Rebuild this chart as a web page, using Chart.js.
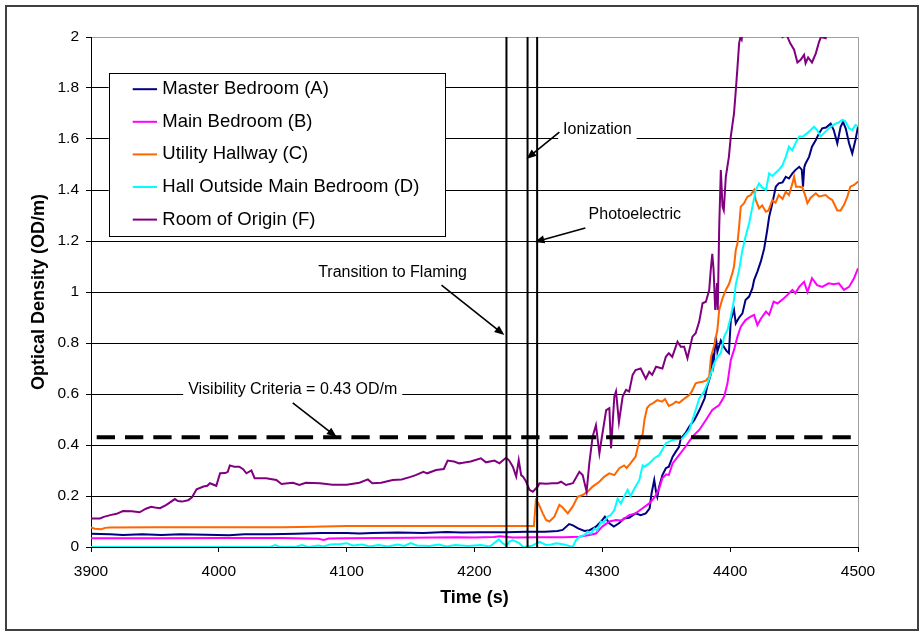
<!DOCTYPE html>
<html>
<head>
<meta charset="utf-8">
<script src="https://cdn.jsdelivr.net/npm/chart.js@4.4.1/dist/chart.umd.min.js"></script>
<style>
html, body { margin: 0; padding: 0; background: #fff; }
</style>
</head>
<body>
<canvas id="odChart" width="920" height="633"></canvas>
<script>
// series: [time (s), optical density (OD/m)]
var masterBedroom = [[3900,0.052],[3915,0.05],[3925,0.047],[3940,0.05],[3955,0.047],[3970,0.05],[3990,0.048],[4008,0.046],[4020,0.05],[4040,0.05],[4060,0.052],[4080,0.055],[4100,0.055],[4110,0.053],[4120,0.055],[4140,0.057],[4160,0.055],[4178,0.059],[4190,0.057],[4205,0.058],[4225,0.058],[4240,0.06],[4255,0.06],[4265,0.063],[4269,0.067],[4274,0.09],[4277,0.085],[4281,0.073],[4286,0.063],[4290,0.066],[4295,0.08],[4299,0.1],[4302,0.119],[4305.5,0.093],[4309,0.08],[4313,0.093],[4317,0.112],[4321,0.115],[4326,0.132],[4330,0.125],[4334,0.132],[4337,0.152],[4338.5,0.21],[4340.6,0.263],[4342,0.217],[4343,0.197],[4344.5,0.237],[4347,0.282],[4349.7,0.309],[4352,0.315],[4355,0.354],[4357.5,0.374],[4360,0.393],[4361.4,0.426],[4365,0.446],[4368,0.472],[4372,0.498],[4376,0.537],[4380,0.583],[4382,0.629],[4385,0.68],[4386,0.76],[4387,0.72],[4388.8,0.825],[4390,0.766],[4392.7,0.81],[4395,0.785],[4397,0.77],[4399,0.76],[4400.5,0.89],[4403,0.93],[4404.4,0.877],[4407,0.9],[4409.6,0.916],[4412,0.969],[4414.8,0.982],[4417.4,1.015],[4418.7,1.047],[4421.3,1.08],[4424,1.12],[4426.6,1.17],[4429,1.243],[4430.5,1.295],[4433,1.348],[4435.7,1.413],[4438,1.426],[4441,1.43],[4443.5,1.452],[4446,1.445],[4448.7,1.465],[4451,1.478],[4454,1.491],[4456,1.48],[4457,1.413],[4458,1.49],[4459,1.504],[4461.7,1.53],[4464,1.57],[4467,1.596],[4469.5,1.622],[4472,1.642],[4475,1.645],[4478.6,1.66],[4481,1.635],[4483.8,1.583],[4486.4,1.648],[4488.3,1.667],[4490.5,1.64],[4493,1.583],[4495.5,1.543],[4498,1.596],[4500,1.648]];
var mainBedroom = [[3900,0.034],[3950,0.034],[4000,0.035],[4050,0.035],[4078,0.032],[4082,0.028],[4086,0.033],[4100,0.034],[4150,0.036],[4186,0.038],[4200,0.037],[4215,0.039],[4220,0.042],[4230,0.037],[4250,0.038],[4270,0.038],[4282,0.04],[4290,0.047],[4295,0.053],[4300,0.08],[4305.5,0.1],[4310.7,0.106],[4315,0.104],[4321,0.125],[4326,0.132],[4331.5,0.152],[4336.7,0.171],[4340,0.19],[4342,0.204],[4344.5,0.23],[4347,0.27],[4350,0.285],[4352,0.282],[4355,0.328],[4360,0.36],[4365,0.393],[4370.5,0.433],[4375.8,0.459],[4381,0.498],[4386,0.537],[4391.4,0.557],[4395.3,0.59],[4397.9,0.642],[4400.5,0.733],[4403,0.773],[4405.7,0.825],[4408.3,0.864],[4412,0.89],[4416,0.903],[4418.7,0.91],[4421.3,0.87],[4424,0.895],[4428,0.923],[4430.5,0.91],[4434,0.962],[4437,0.955],[4442,0.975],[4448.7,1.008],[4451,0.995],[4454,1.02],[4457.8,1.04],[4460.5,1.0],[4464,1.054],[4468,1.027],[4472,1.02],[4477,1.034],[4481,1.03],[4485,1.034],[4489,1.008],[4493,1.02],[4496.9,1.054],[4500,1.093]];
var utilityHallway = [[3900,0.077],[3903,0.072],[3908,0.07],[3911,0.075],[3915,0.076],[3950,0.077],[4000,0.077],[4050,0.077],[4075,0.079],[4082,0.08],[4100,0.082],[4150,0.082],[4200,0.082],[4246.5,0.082],[4248,0.184],[4250,0.171],[4253.4,0.132],[4256,0.106],[4258.6,0.1],[4262.5,0.119],[4266.4,0.165],[4269,0.155],[4273,0.132],[4276.8,0.158],[4280.7,0.197],[4284.6,0.204],[4288.5,0.217],[4292.4,0.237],[4297.7,0.256],[4301.6,0.276],[4305.5,0.289],[4309.4,0.282],[4313.3,0.309],[4317,0.32],[4319,0.31],[4322,0.328],[4326,0.354],[4328.4,0.407],[4330,0.433],[4331.5,0.44],[4333,0.5],[4335,0.545],[4337,0.557],[4340,0.565],[4343,0.576],[4346.7,0.57],[4349,0.58],[4352,0.553],[4355,0.56],[4357.6,0.57],[4360,0.565],[4362.7,0.576],[4365,0.585],[4368,0.596],[4370,0.61],[4373,0.642],[4375,0.645],[4378.4,0.648],[4381,0.652],[4383.6,0.668],[4385,0.746],[4387.5,0.79],[4390,0.851],[4391.4,0.93],[4394,0.975],[4396.6,1.008],[4399,1.03],[4401.8,1.075],[4403,1.1],[4404.4,1.165],[4405.7,1.19],[4407,1.256],[4408.3,1.335],[4410.9,1.348],[4413.5,1.374],[4416,1.38],[4418.7,1.4],[4420,1.36],[4422.7,1.328],[4425,1.34],[4427.9,1.315],[4430,1.32],[4433,1.36],[4435.5,1.35],[4438,1.38],[4441,1.365],[4443.5,1.393],[4446,1.38],[4448.7,1.426],[4450,1.452],[4451.5,1.413],[4454,1.413],[4456.5,1.41],[4459,1.374],[4460.4,1.348],[4463,1.37],[4467,1.387],[4469.5,1.375],[4474.7,1.38],[4477,1.37],[4480,1.36],[4483.8,1.32],[4486.4,1.32],[4489,1.341],[4491.7,1.374],[4494,1.413],[4497,1.42],[4500,1.433]];
var hallOutside = [[3900,0],[3950,0],[4000,0],[4040,0],[4044,0.008],[4048,0],[4060,0],[4065,0.008],[4070,0],[4078,0.006],[4082,0.002],[4087,0.01],[4095,0.012],[4100,0.015],[4105,0.006],[4112,0.01],[4118,0.002],[4125,0.008],[4132,0.002],[4140,0.01],[4145,0.004],[4150,0.015],[4155,0.006],[4165,0.004],[4172,0.01],[4178,0.002],[4185,0.008],[4195,0.004],[4205,0.008],[4212,0.002],[4219,0.03],[4222,0.015],[4225,0.005],[4227,0.02],[4230,0.027],[4235,0.015],[4238,0],[4245,0.005],[4251,0.02],[4256,0.008],[4260,0.01],[4264,0.015],[4270,0.01],[4276.8,0],[4279.4,0.027],[4282,0.04],[4286,0.047],[4288.5,0.06],[4291,0.052],[4293.8,0.073],[4296,0.065],[4299,0.1],[4301,0.095],[4304,0.119],[4306.5,0.125],[4309.4,0.145],[4312,0.19],[4314.5,0.17],[4317,0.197],[4319.8,0.224],[4322,0.2],[4326,0.237],[4329,0.263],[4331.5,0.32],[4333,0.315],[4336.7,0.328],[4340.6,0.348],[4344.5,0.36],[4349.7,0.407],[4355,0.42],[4362.7,0.426],[4368,0.459],[4373,0.537],[4375.8,0.583],[4379.6,0.609],[4382.3,0.642],[4385,0.681],[4387.5,0.72],[4390,0.746],[4392.7,0.76],[4395.3,0.825],[4397.9,0.851],[4400.5,0.903],[4403,0.969],[4404.4,1.03],[4407,1.086],[4409.6,1.165],[4412,1.217],[4414.8,1.269],[4417.4,1.335],[4420,1.4],[4422.6,1.426],[4425,1.41],[4428,1.4],[4430.5,1.465],[4433,1.455],[4436,1.47],[4438,1.478],[4441,1.498],[4443.5,1.53],[4446,1.57],[4448.5,1.555],[4451,1.583],[4454,1.61],[4457,1.61],[4460,1.622],[4463,1.635],[4465.6,1.648],[4468,1.635],[4470.8,1.61],[4474.7,1.63],[4478.6,1.648],[4482.5,1.66],[4485,1.665],[4487.7,1.675],[4490,1.67],[4493,1.642],[4495.5,1.635],[4498,1.655],[4500,1.65]];
var roomOfOrigin = [[3900,0.112],[3907,0.112],[3910,0.118],[3915,0.125],[3920,0.13],[3925,0.141],[3932,0.14],[3938,0.136],[3943,0.15],[3947,0.158],[3950,0.155],[3954,0.152],[3959,0.165],[3965.6,0.188],[3968,0.18],[3971,0.178],[3976,0.183],[3979,0.195],[3982.6,0.226],[3988,0.237],[3991,0.24],[3993,0.25],[3998,0.24],[4001,0.289],[4005,0.29],[4007,0.295],[4008.6,0.32],[4012,0.315],[4016,0.315],[4019,0.305],[4021.6,0.289],[4025.5,0.3],[4028,0.27],[4037,0.27],[4045,0.263],[4049,0.247],[4054,0.25],[4058,0.252],[4063,0.243],[4068,0.252],[4079,0.25],[4089,0.244],[4100,0.244],[4110,0.252],[4116.6,0.265],[4120,0.25],[4127,0.252],[4136,0.263],[4143,0.265],[4150,0.275],[4154,0.282],[4160,0.295],[4163,0.289],[4170,0.302],[4176,0.306],[4179,0.339],[4184,0.335],[4188,0.328],[4191,0.33],[4197,0.335],[4205,0.348],[4209,0.332],[4215.6,0.339],[4219.5,0.328],[4224.7,0.35],[4227,0.34],[4230,0.315],[4232.6,0.276],[4234.6,0.341],[4236.5,0.282],[4238,0.276],[4240,0.26],[4243,0.224],[4245.6,0.217],[4249.5,0.237],[4250.8,0.25],[4256,0.248],[4261,0.25],[4265,0.25],[4267.7,0.256],[4271.6,0.243],[4277,0.25],[4282,0.295],[4284.6,0.282],[4287.7,0.217],[4289.8,0.328],[4292.4,0.433],[4295,0.478],[4297.7,0.367],[4299,0.41],[4303,0.537],[4305.5,0.544],[4306.8,0.387],[4309.4,0.59],[4310.7,0.61],[4313,0.49],[4315.9,0.59],[4318.5,0.616],[4321,0.61],[4323.7,0.675],[4326,0.694],[4330,0.7],[4334,0.66],[4336.7,0.687],[4339,0.675],[4342,0.707],[4347,0.7],[4349.7,0.746],[4352,0.76],[4354.7,0.746],[4358.8,0.805],[4361.4,0.785],[4364,0.785],[4366.6,0.74],[4370.5,0.825],[4373,0.838],[4375.8,0.884],[4378.4,0.956],[4381,0.962],[4383.6,1.008],[4384.8,1.086],[4386,1.15],[4387,1.09],[4388.3,0.93],[4389.7,1.035],[4390.3,0.93],[4391.4,1.25],[4392.7,1.478],[4394,1.335],[4395,1.32],[4396.6,1.452],[4399,1.53],[4400.5,1.61],[4403,1.7],[4404.4,1.79],[4405.7,1.88],[4407,1.975],[4408,2.0],[4409,1.99],[4410,2.03],[4412,2.1],[4438,2.1],[4441,2.0],[4444,2.01],[4447,1.975],[4450,1.95],[4452.6,1.9],[4455,1.91],[4457.8,1.93],[4459,1.897],[4461,1.92],[4464,1.9],[4467,1.936],[4469.5,1.98],[4471,2.0],[4474.7,1.995],[4476,2.03],[4480,2.1],[4500,2.1]];

var seriesNames = ['Master Bedroom (A)', 'Main Bedroom (B)', 'Utility Hallway (C)', 'Hall Outside Main Bedroom (D)', 'Room of Origin (F)'];
var seriesColors = ['#000080', '#ff00ff', '#ff6600', '#00ffff', '#800080'];
var seriesData = [masterBedroom, mainBedroom, utilityHallway, hallOutside, roomOfOrigin];

// detector / event times (s) and the visibility limit (OD/m)
var eventTimes = [4225, 4241.5, 4249];
var visibilityOD = 0.43;

// axis range
var timeMin = 3900, timeMax = 4500, timeStep = 100;
var odMin = 0, odMax = 2, odStep = 0.2;

// callouts, anchored in data units
var notes = [
	{ text: 'Visibility Criteria = 0.43 OD/m', at: [4057.8, 0.618], from: [4057.8, 0.565], to: [4092.2, 0.431] },
	{ text: 'Transition to Flaming', at: [4135.9, 1.078], from: [4174.2, 1.027], to: [4223.4, 0.831] },
	{ text: 'Ionization', at: [4296.1, 1.635], from: [4266.4, 1.627], to: [4240.6, 1.522] },
	{ text: 'Photoelectric', at: [4325.4, 1.305], from: [4286.7, 1.251], to: [4246.9, 1.196] }
];

Chart.defaults.font.family = '"Liberation Sans", Arial, sans-serif';
Chart.defaults.color = '#000';

function toPoints(rows) {
	return rows.map(function (r) { return { x: r[0], y: r[1] }; });
}

var datasets = [];
seriesData.forEach(function (rows, i) {
	datasets.push({
		label: seriesNames[i],
		data: toPoints(rows),
		borderColor: seriesColors[i],
		backgroundColor: seriesColors[i],
		borderWidth: 2,
		pointRadius: 0,
		tension: 0,
		order: 10 - i,
		isSeries: true
	});
});
eventTimes.forEach(function (t) {
	datasets.push({
		label: 'event ' + t,
		data: [{ x: t, y: odMin }, { x: t, y: odMax }],
		borderColor: '#000',
		borderWidth: 2,
		pointRadius: 0,
		order: -1
	});
});
datasets.push({
	label: 'visibility',
	data: [{ x: timeMin, y: visibilityOD }, { x: timeMax, y: visibilityOD }],
	borderColor: '#000',
	borderWidth: 4,
	borderDash: [18.3, 10],
	borderDashOffset: 22.6,
	borderCapStyle: 'butt',
	pointRadius: 0,
	order: -1
});

function arrow(c, x1, y1, x2, y2) {
	var ang = Math.atan2(y2 - y1, x2 - x1);
	var cs = Math.cos(ang), sn = Math.sin(ang);
	c.beginPath();
	c.moveTo(x1, y1);
	c.lineTo(x2 - 6 * cs, y2 - 6 * sn);
	c.stroke();
	c.beginPath();
	c.moveTo(x2, y2);
	c.lineTo(x2 - 10 * cs + 4 * sn, y2 - 10 * sn - 4 * cs);
	c.lineTo(x2 - 10 * cs - 4 * sn, y2 - 10 * sn + 4 * cs);
	c.closePath();
	c.fill();
}

var decorations = {
	id: 'decorations',
	beforeDraw: function (chart) {
		var c = chart.ctx;
		c.save();
		c.fillStyle = '#fff';
		c.fillRect(0, 0, chart.width, chart.height);
		c.strokeStyle = '#404040';
		c.lineWidth = 2;
		c.strokeRect(6, 6, 912, 624);
		c.restore();
	},
	beforeDatasetsDraw: function (chart) {
		var c = chart.ctx, xs = chart.scales.x, ys = chart.scales.y, a = chart.chartArea;
		c.save();
		c.strokeStyle = '#a0a0a0';
		c.lineWidth = 1;
		c.beginPath();
		c.moveTo(Math.round(a.right) + 0.5, a.top);
		c.lineTo(Math.round(a.right) + 0.5, a.bottom);
		c.stroke();

		c.font = '16px "Liberation Sans", Arial, sans-serif';
		c.textAlign = 'center';
		c.textBaseline = 'middle';
		notes.forEach(function (n) {
			var px = xs.getPixelForValue(n.at[0]), py = ys.getPixelForValue(n.at[1]);
			var w = c.measureText(n.text).width;
			c.fillStyle = '#fff';
			c.fillRect(px - w / 2 - 5, py - 9, w + 10, 18);
			c.fillStyle = '#000';
			c.fillText(n.text, px, py);
			c.strokeStyle = '#000';
			c.lineWidth = 1.6;
			arrow(c, xs.getPixelForValue(n.from[0]), ys.getPixelForValue(n.from[1]),
				xs.getPixelForValue(n.to[0]), ys.getPixelForValue(n.to[1]));
		});
		c.restore();
	},
	afterDatasetsDraw: function (chart) {
		var c = chart.ctx, a = chart.chartArea;
		var bx = a.left + 17.7, by = a.top + 35.7, bw = 336.3, bh = 163.3;
		c.save();
		c.fillStyle = '#fff';
		c.fillRect(bx, by, bw, bh);
		c.strokeStyle = '#000';
		c.lineWidth = 1;
		c.strokeRect(Math.round(bx) + 0.5, Math.round(by) + 0.5, Math.round(bw), Math.round(bh));
		c.font = '18.5px "Liberation Sans", Arial, sans-serif';
		c.textAlign = 'left';
		c.textBaseline = 'middle';
		var row = 0;
		chart.data.datasets.forEach(function (ds) {
			if (!ds.isSeries) return;
			var ry = by + 16.5 + row * 32.6;
			c.strokeStyle = ds.borderColor;
			c.lineWidth = 2;
			c.beginPath();
			c.moveTo(bx + 24, ry);
			c.lineTo(bx + 48.3, ry);
			c.stroke();
			c.fillStyle = '#000';
			c.fillText(ds.label, bx + 53.6, ry);
			row++;
		});
		c.restore();
	}
};

var ctx = document.getElementById('odChart').getContext('2d');
var odChart = new Chart(ctx, {
	type: 'line',
	data: { datasets: datasets },
	options: {
		responsive: false,
		animation: false,
		layout: { padding: { left: 0, top: 37, right: 62, bottom: 0 } },
		plugins: {
			legend: { display: false },
			tooltip: { enabled: false }
		},
		scales: {
			x: {
				type: 'linear',
				min: timeMin,
				max: timeMax,
				ticks: {
					stepSize: timeStep,
					color: '#000',
					font: { size: 15.5 },
					padding: 10,
					maxRotation: 0,
					callback: function (v) { return String(v); }
				},
				grid: { drawOnChartArea: false, drawTicks: true, tickLength: 5, color: '#000' },
				border: { color: '#000', width: 1 },
				title: {
					display: true,
					text: 'Time (s)',
					color: '#000',
					font: { size: 18, weight: 'bold' },
					padding: { top: 0, bottom: 24 }
				},
				afterFit: function (s) { s.height = 86; }
			},
			y: {
				min: odMin,
				max: odMax,
				ticks: {
					stepSize: odStep,
					color: '#000',
					font: { size: 15.5 },
					padding: 7,
					callback: function (v) { return String(Math.round(v * 10) / 10); }
				},
				grid: {
					color: function (c) { return c.tick && c.tick.value === odMax ? '#a0a0a0' : '#000'; },
					tickColor: '#000',
					tickLength: 5,
					drawTicks: true
				},
				border: { color: '#000', width: 1 },
				title: {
					display: true,
					text: 'Optical Density (OD/m)',
					color: '#000',
					font: { size: 18, weight: 'bold' },
					padding: { top: 28, bottom: 0 }
				},
				afterFit: function (s) { s.width = 91; }
			}
		}
	},
	plugins: [decorations]
});
</script>
</body>
</html>
